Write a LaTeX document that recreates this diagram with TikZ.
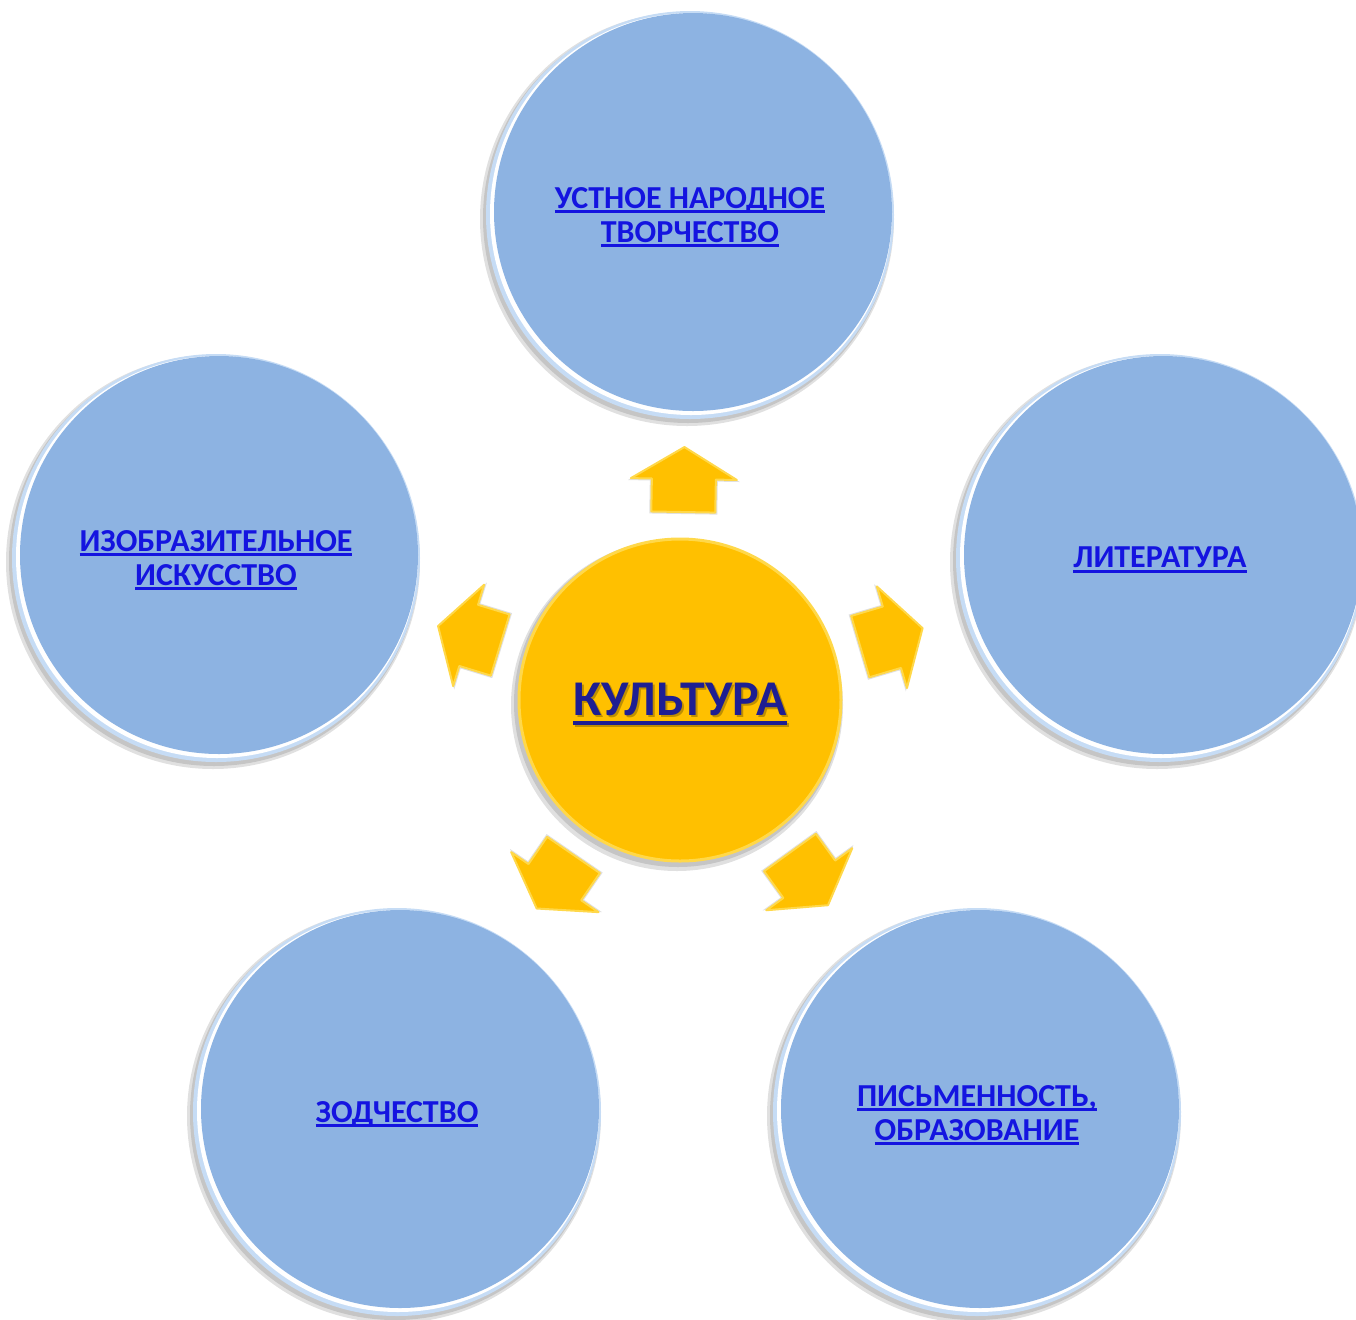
\documentclass[tikz,border=0pt]{standalone}
\usepackage{fontspec}
\setmainfont{Carlito}
\definecolor{cblue}{HTML}{8DB3E2}
\definecolor{cblueedge}{HTML}{C6DCF5}
\definecolor{cyel}{HTML}{FFC000}
\definecolor{cyellight}{HTML}{FFD84A}
\definecolor{ctext}{HTML}{1414E0}
\definecolor{cnavy}{HTML}{1E1E92}
\newcommand{\myul}[3][1.4pt]{\setbox0=\hbox{#3}\leavevmode\rlap{\rule[-#2]{\wd0}{#1}}\box0}
\tikzset{
  bluecirc/.style={circle, fill=cblue, minimum size=199pt, inner sep=0pt},
  bluetext/.style={text=ctext, font=\bfseries\fontsize{16}{17}\selectfont, align=center},
  yelcirc/.style={circle, fill=cyel, draw=cyellight, line width=1.5pt, minimum size=161pt, inner sep=0pt},
  shadowfill/.style={fill=black, opacity=0.12},
  arrowfill/.style={fill=cyel, draw=cyellight, line width=1pt, line join=round}
}
\begin{document}
\begin{tikzpicture}[x=0.5pt, y=-0.5pt]
\useasboundingbox (0,0) rectangle (1356,1319);
% blue circles: shadow, rim, blue body
\foreach \cx/\cy/\nm in {690/215/top, 216/558/left, 1160/558/right, 397/1112/bl, 977/1112/br}{
  \fill[shadowfill] (\cx-3,\cy+4) circle (207);
  \fill[shadowfill] (\cx-2,\cy+3) circle (205);
  \fill[cblueedge] (\cx,\cy) circle (204);
  \fill[white] (\cx+1,\cy-1) circle (201);
  \node[bluecirc] (\nm) at (\cx+3,\cy-3) {};
}
\node[bluetext] (ttop) at (690,217) {\myul{2.5pt}{УСТНОЕ НАРОДНОЕ}\\\myul{2.5pt}{ТВОРЧЕСТВО}};
\node[bluetext] (tleft) at (216,560) {\myul{2.5pt}{ИЗОБРАЗИТЕЛЬНОЕ}\\\myul{2.5pt}{ИСКУССТВО}};
\node[bluetext] (tright) at (1160,560) {\myul{2.5pt}{ЛИТЕРАТУРА}};
\node[bluetext] (tbl) at (397,1114) {\myul{2.5pt}{ЗОДЧЕСТВО}};
\node[bluetext] (tbr) at (977,1115) {\myul{2.5pt}{ПИСЬМЕННОСТЬ,}\\\myul{2.5pt}{ОБРАЗОВАНИЕ}};
% arrows
\foreach \a in {89,16.5,163,-124.5,-54.2}{
  \begin{scope}[shift={(680,700)}, rotate=\a]
    \fill[shadowfill] (186,-34) -- (219,-34) -- (219,-56) -- (251,0) -- (219,56) -- (219,34) -- (186,34) -- cycle;
    \path[arrowfill] (188,-32) -- (221,-32) -- (221,-53) -- (253,0) -- (221,53) -- (221,32) -- (188,32) -- cycle;
  \end{scope}
}
% centre circle
\fill[shadowfill] (677,705) circle (166);
\fill[shadowfill] (678,703) circle (164);
\node[yelcirc] (c) at (680,700) {};
\node[text=black, opacity=0.25, font=\bfseries\fontsize{25}{28}\selectfont] (cs) at (682,706) {\myul[2pt]{4.5pt}{КУЛЬТУРА}};
\node[text=cnavy, font=\bfseries\fontsize{25}{28}\selectfont] (ct) at (680,704) {\myul[2pt]{4.5pt}{КУЛЬТУРА}};
\end{tikzpicture}
\end{document}
